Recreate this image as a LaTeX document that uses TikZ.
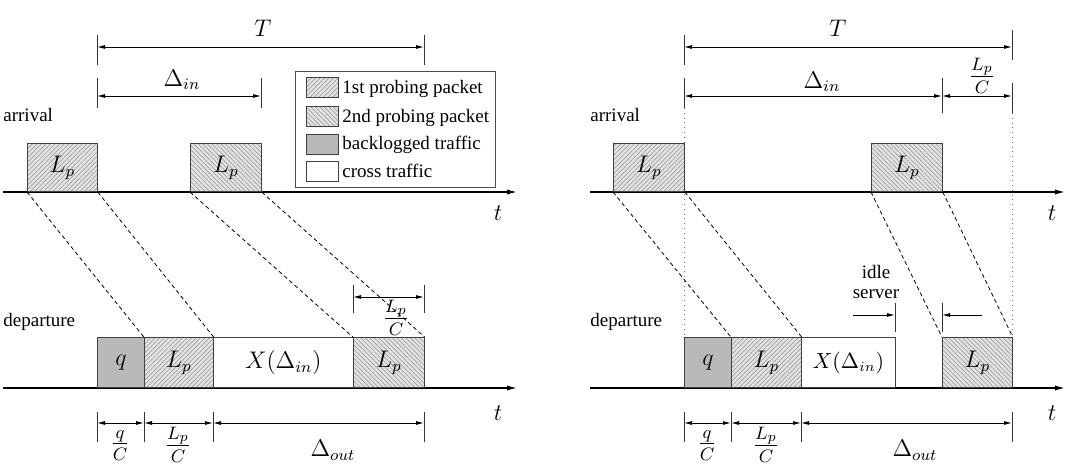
\documentclass[tikz,border=0pt]{standalone}
\usepackage{fontspec}
\setmainfont{Liberation Serif}
\usetikzlibrary{arrows.meta,patterns.meta}
\begin{document}
\begin{tikzpicture}[x=0.5pt,y=-0.5pt,font=\fontsize{12}{14}\selectfont,
  box/.style={draw=black!75,line width=0.4pt,inner sep=0pt,anchor=south west},
  pA/.style={box,preaction={fill=gray!22},pattern={Lines[angle=45,distance=1.6pt,line width=0.35pt]},pattern color=gray!75},
  pB/.style={box,preaction={fill=gray!22},pattern={Lines[angle=-45,distance=1.6pt,line width=0.35pt]},pattern color=gray!75},
  bk/.style={box,fill=gray!55},
  cr/.style={box,fill=white},
  sw/.style={draw=black!75,line width=0.4pt,inner sep=0pt,minimum width=16pt,minimum height=10pt,anchor=north west},
  axis/.style={line width=0.7pt,-{Latex[length=5pt,width=2.6pt]}},
  dim/.style={line width=0.45pt,{Latex[length=4pt,width=2pt]}-{Latex[length=4pt,width=2pt]}},
  onearrow/.style={line width=0.45pt,-{Latex[length=4pt,width=2pt]}},
  tick/.style={line width=0.45pt,black!80},
  conn/.style={dashed,dash pattern=on 2pt off 1.5pt,line width=0.4pt},
  guide/.style={dotted,line width=0.4pt,black!55},
  lbl/.style={inner sep=0pt},
  frc/.style={inner sep=0pt,font=\fontsize{13.5}{15}\selectfont},
  txt/.style={inner sep=0pt,font=\fontsize{9.5}{11}\selectfont}]
\useasboundingbox (0,0) rectangle (1089,466);

% ================= LEFT PANEL =================
\coordinate (la0) at (3,192); \coordinate (la1) at (517,192);
\coordinate (ld0) at (3,388); \coordinate (ld1) at (517,388);
\draw[axis] (la0) -- (la1);
\draw[axis] (ld0) -- (ld1);
\node[lbl] (lt1) at (498,213) {$t$};
\node[lbl] (lt2) at (498,413) {$t$};
\node[txt,anchor=west] (larr) at (3,115) {arrival};
\node[txt,anchor=west] (ldep) at (3,322) {departure};

\node[pA,minimum width=35pt,minimum height=24pt] (LA1) at (27,192) {$L_p$};
\node[pB,minimum width=35.5pt,minimum height=24pt] (LA2) at (190,192) {$L_p$};
\node[bk,minimum width=23.5pt,minimum height=25pt] (LQ) at (97,388) {$q$};
\node[pA,minimum width=34.5pt,minimum height=25pt] (LD1) at (144,388) {$L_p$};
\node[cr,minimum width=70pt,minimum height=25pt] (LX) at (213,388) {$X(\Delta_{in})$};
\node[pB,minimum width=35.5pt,minimum height=25pt] (LD2) at (353,388) {$L_p$};

\draw[conn] (LA1.south west) -- (LD1.north west);
\draw[conn] (LA1.south east) -- (LD1.north east);
\draw[conn] (LA2.south west) -- (LD2.north west);
\draw[conn] (LA2.south east) -- (LD2.north east);

% T
\coordinate (lT1a) at (97,35); \coordinate (lT1b) at (97,65);
\coordinate (lT2a) at (424,35); \coordinate (lT2b) at (424,65);
\draw[tick] (lT1a) -- (lT1b); \draw[tick] (lT2a) -- (lT2b);
\coordinate (lTs) at (97,47); \coordinate (lTe) at (424,47);
\draw[dim] (lTs) -- (lTe);
\node[lbl] (lTl) at (263,28) {$T$};
% Delta in
\coordinate (lD1a) at (97,78); \coordinate (lD1b) at (97,108);
\coordinate (lD2a) at (261,78); \coordinate (lD2b) at (261,108);
\draw[tick] (lD1a) -- (lD1b); \draw[tick] (lD2a) -- (lD2b);
\coordinate (lDs) at (97,96); \coordinate (lDe) at (261,96);
\draw[dim] (lDs) -- (lDe);
\node[lbl] (lDl) at (182,80) {$\Delta_{in}$};

% Lp/C above departure
\coordinate (lP1a) at (353,285); \coordinate (lP1b) at (353,313);
\coordinate (lP2a) at (424,285); \coordinate (lP2b) at (424,313);
\draw[tick] (lP1a) -- (lP1b); \draw[tick] (lP2a) -- (lP2b);
\coordinate (lPs) at (353,297); \coordinate (lPe) at (424,297);
\draw[dim] (lPs) -- (lPe);
\node[frc] (lPl) at (396,318) {$\frac{L_p}{C}$};

% bottom dims
\foreach \x/\n in {97/a,144/b,213/c,424/d}{
  \coordinate (lb\n1) at (\x,412); \coordinate (lb\n2) at (\x,442);
  \draw[tick] (lb\n1) -- (lb\n2);
  \coordinate (lb\n) at (\x,423);}
\draw[dim] (lba) -- (lbb);
\draw[dim] (lbb) -- (lbc);
\draw[dim] (lbc) -- (lbd);
\node[frc] (lbq) at (120,446) {$\frac{q}{C}$};
\node[frc] (lbl) at (178,445) {$\frac{L_p}{C}$};
\node[lbl] (lbo) at (333,450) {$\Delta_{out}$};

% legend
\node[draw=black!70,line width=0.5pt,minimum width=100pt,minimum height=58pt,inner sep=0pt,anchor=north west] (leg) at (295,71) {};
\node[sw,pattern={Lines[angle=45,distance=1.6pt,line width=0.35pt]},pattern color=gray!75,preaction={fill=gray!22}] (s1) at (306,77) {};
\node[sw,pattern={Lines[angle=-45,distance=1.6pt,line width=0.35pt]},pattern color=gray!75,preaction={fill=gray!22}] (s2) at (306,106) {};
\node[sw,fill=gray!55] (s3) at (306,134) {};
\node[sw,fill=white] (s4) at (306,161) {};
\node[txt,anchor=west] (t1) at (342,89) {1st probing packet};
\node[txt,anchor=west] (t2) at (342,118) {2nd probing packet};
\node[txt,anchor=west] (t3) at (342,145) {backlogged traffic};
\node[txt,anchor=west] (t4) at (342,171) {cross traffic};

% ================= RIGHT PANEL =================
\coordinate (ra0) at (590,192); \coordinate (ra1) at (1065,192);
\coordinate (rd0) at (590,388); \coordinate (rd1) at (1065,388);
\draw[axis] (ra0) -- (ra1);
\draw[axis] (rd0) -- (rd1);
\node[lbl] (rt1) at (1052,213) {$t$};
\node[lbl] (rt2) at (1052,413) {$t$};
\node[txt,anchor=west] (rarr) at (590,115) {arrival};
\node[txt,anchor=west] (rdep) at (590,322) {departure};

\coordinate (rg1a) at (684,108); \coordinate (rg1b) at (684,338);
\coordinate (rg2a) at (1012,113); \coordinate (rg2b) at (1012,338);
\draw[guide] (rg1a) -- (rg1b);
\draw[guide] (rg2a) -- (rg2b);

\node[pA,minimum width=35.5pt,minimum height=24pt] (RA1) at (613,192) {$L_p$};
\node[pB,minimum width=35.5pt,minimum height=24pt] (RA2) at (871,192) {$L_p$};
\node[bk,minimum width=23.5pt,minimum height=25pt] (RQ) at (684,388) {$q$};
\node[pA,minimum width=35pt,minimum height=25pt] (RD1) at (731,388) {$L_p$};
\node[cr,minimum width=47pt,minimum height=25pt] (RX) at (801,388) {\fontsize{10.5}{12}\selectfont$X(\Delta_{in})$};
\node[pB,minimum width=35pt,minimum height=25pt] (RD2) at (942,388) {$L_p$};

\draw[conn] (RA1.south west) -- (RD1.north west);
\draw[conn] (RA1.south east) -- (RD1.north east);
\draw[conn] (RA2.south west) -- (RD2.north west);
\draw[conn] (RA2.south east) -- (RD2.north east);

% T
\coordinate (rT1a) at (684,35); \coordinate (rT1b) at (684,65);
\coordinate (rT2a) at (1012,30); \coordinate (rT2b) at (1012,60);
\draw[tick] (rT1a) -- (rT1b); \draw[tick] (rT2a) -- (rT2b);
\coordinate (rTs) at (684,47); \coordinate (rTe) at (1012,47);
\draw[dim] (rTs) -- (rTe);
\node[lbl] (rTl) at (838,28) {$T$};
% Delta in and Lp/C
\coordinate (rD1a) at (684,78); \coordinate (rD1b) at (684,108);
\coordinate (rD2a) at (942,78); \coordinate (rD2b) at (942,113);
\coordinate (rD3a) at (1012,83); \coordinate (rD3b) at (1012,113);
\draw[tick] (rD1a) -- (rD1b); \draw[tick] (rD2a) -- (rD2b); \draw[tick] (rD3a) -- (rD3b);
\coordinate (rDs) at (684,96); \coordinate (rDm) at (942,96); \coordinate (rDe) at (1012,96);
\draw[dim] (rDs) -- (rDm);
\draw[dim] (rDm) -- (rDe);
\node[lbl] (rDl) at (822,82) {$\Delta_{in}$};
\node[frc] (rPl) at (982,76) {$\frac{L_p}{C}$};

% idle server
\node[txt,align=center] (idle) at (876,282) {idle\\[-1pt]server};
\coordinate (ri1a) at (895,303); \coordinate (ri1b) at (895,332);
\coordinate (ri2a) at (942,303); \coordinate (ri2b) at (942,332);
\draw[tick] (ri1a) -- (ri1b); \draw[tick] (ri2a) -- (ri2b);
\coordinate (ri1s) at (853,315); \coordinate (ri1e) at (895,315);
\coordinate (ri2s) at (982,315); \coordinate (ri2e) at (942,315);
\draw[onearrow] (ri1s) -- (ri1e);
\draw[onearrow] (ri2s) -- (ri2e);

% bottom dims
\foreach \x/\n in {684/a,731/b,801/c,1012/d}{
  \coordinate (rb\n1) at (\x,412); \coordinate (rb\n2) at (\x,442);
  \draw[tick] (rb\n1) -- (rb\n2);
  \coordinate (rb\n) at (\x,423);}
\draw[dim] (rba) -- (rbb);
\draw[dim] (rbb) -- (rbc);
\draw[dim] (rbc) -- (rbd);
\node[frc] (rbq) at (707,446) {$\frac{q}{C}$};
\node[frc] (rbl) at (766,445) {$\frac{L_p}{C}$};
\node[lbl] (rbo) at (915,450) {$\Delta_{out}$};
\end{tikzpicture}
\end{document}
